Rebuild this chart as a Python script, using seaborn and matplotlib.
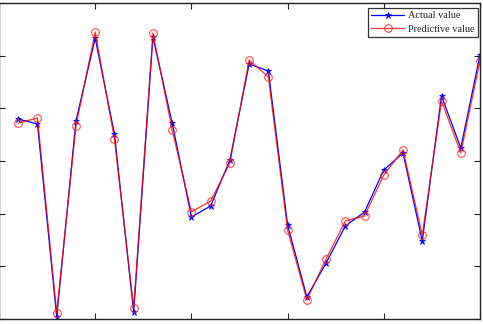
import matplotlib
matplotlib.use("Agg")
import matplotlib.pyplot as plt
import seaborn as sns
import pandas as pd

sample = list(range(1, 26))
actual = [3.797, 3.703, 0.038, 3.759, 5.335, 3.513, 0.133, 5.354, 3.722, 1.937,
          2.146, 3.019, 4.842, 4.709, 1.785, 0.418, 1.063, 1.766, 2.032, 2.829,
          3.152, 1.481, 4.234, 3.247, 5.013]
predicted = [3.722, 3.816, 0.114, 3.665, 5.449, 3.418, 0.209, 5.430, 3.589, 2.032,
             2.240, 2.962, 4.918, 4.595, 1.690, 0.361, 1.139, 1.861, 1.956, 2.734,
             3.209, 1.595, 4.139, 3.152, 4.899]
labels = ["Actual value", "Predictive value"]

sns.set_style("white")
plt.rcParams['font.family'] = ['Liberation Serif', 'DejaVu Serif']

fig = plt.figure(figsize=(4.83, 3.24), dpi=100)
ax = fig.add_axes([-1/483, 5/324, 481/483, 316/324])

df_a = pd.DataFrame({"x": sample, "y": actual})
df_p = pd.DataFrame({"x": sample, "y": predicted})
sns.lineplot(data=df_a, x="x", y="y", ax=ax, color="#0000ff", lw=0.9,
             marker="*", markersize=5, markeredgewidth=0.5, markeredgecolor="#0000ff",
             label=labels[0])
sns.lineplot(data=df_p, x="x", y="y", ax=ax, color="#ff0000", lw=0.9,
             marker="o", markersize=5.5, markerfacecolor="none", markeredgewidth=0.8,
             markeredgecolor="#ff2020", label=labels[1], alpha=0.8)

ax.set_xlim(0, 25)
ax.set_ylim(0, 6)
ax.set_xticks([0, 5, 10, 15, 20, 25])
ax.set_yticks([0, 1, 2, 3, 4, 5, 6])
ax.tick_params(direction="in", length=4, width=0.8, top=True, right=True,
               bottom=True, left=True, labelbottom=False, labelleft=False,
               color="#222222")
ax.set_xlabel("")
ax.set_ylabel("")
for s in ax.spines.values():
    s.set_color("#222222")
    s.set_linewidth(1.0)

leg = ax.legend(loc="upper right", bbox_to_anchor=(1 - 2/481, 1 - 5/316),
                fontsize=7.4, frameon=True, fancybox=False,
                edgecolor="black", borderpad=0.3, handlelength=3.2,
                handletextpad=0.4, labelspacing=0.4, borderaxespad=0.0)
leg.get_frame().set_linewidth(0.9)

fig.savefig("out.png", dpi=100)
